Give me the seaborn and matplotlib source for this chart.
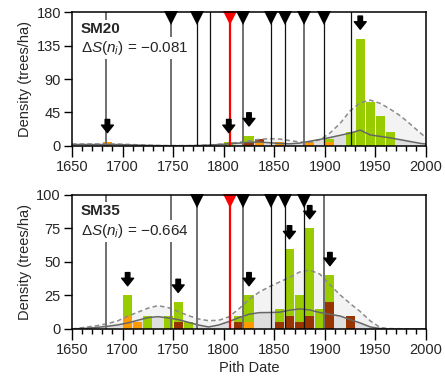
import numpy as np
import pandas as pd
import matplotlib
matplotlib.use('Agg')
import matplotlib.pyplot as plt
import seaborn as sns

# bar data: bin start year, class, density (trees/ha)
top_bins = [1680, 1800, 1820, 1820, 1830, 1830, 1850, 1880, 1900, 1900, 1920, 1930, 1940, 1950, 1960]
top_cls = ['orange', 'green', 'brown', 'green', 'orange', 'brown', 'orange', 'orange', 'orange', 'green',
           'green', 'green', 'green', 'green', 'green']
top_dens = [4.5, 4.5, 4.5, 9, 4.5, 4.5, 4.5, 4.5, 4.5, 4.5, 18, 144, 58.5, 40.5, 18]

bot_bins = [1700, 1700, 1710, 1720, 1740, 1750, 1750, 1760, 1810, 1810, 1820, 1820, 1850, 1850,
            1860, 1860, 1870, 1870, 1880, 1880, 1890, 1900, 1900, 1920]
bot_cls = ['orange', 'green', 'orange', 'green', 'green', 'brown', 'green', 'green', 'brown', 'green',
           'orange', 'green', 'brown', 'green', 'brown', 'green', 'brown', 'green', 'brown', 'green',
           'green', 'brown', 'green', 'brown']
bot_dens = [10, 15, 5, 10, 10, 5, 15, 5, 5, 5, 5, 20, 5, 10, 10, 50, 5, 20, 10, 65, 15, 20, 20, 10]

# smoothed curves (read at 1650, bin centres 1655..1995, 2000)
grid = np.r_[1650, np.arange(1655, 2000, 10), 2000]
top_dash = [2.2, 2.2, 2.3, 2.3, 2.3, 2.2, 1.8, 1.2, 0.7, 0.3, 0.1, 0.1, 0.1, 0.4, 1.0, 1.8, 3.0, 4.5,
            6.5, 8.5, 9.5, 9.0, 7.0, 5.0, 4.5, 8.0, 17, 30, 47, 58, 61.5, 57, 49, 40, 28.5, 16.5, 11]
top_solid = [1.6, 1.6, 1.6, 1.6, 1.6, 1.5, 1.2, 0.8, 0.4, 0.1, 0, 0, 0, 0.2, 0.8, 1.5, 2.5, 3.5,
             4.5, 5, 4, 3, 2.5, 3.5, 6, 8.5, 11, 14, 17, 21, 14.5, 12.5, 10.5, 8, 5.5, 3, 2.3]
bot_dash = [0, 0.5, 1.5, 2.5, 4, 6, 9.5, 12.5, 15.5, 17.4, 16, 13, 10, 7.5, 6.2, 6.5, 9, 15,
            22, 27.5, 31.5, 35, 38.5, 42.5, 44, 41, 33, 25.5, 19, 13, 6, 1, 0.3, 0.2, 0.1, 0.1, 0.1]
bot_solid = [0, 0.2, 0.6, 1.2, 2, 3, 4.5, 6.5, 8.5, 9.2, 8.3, 7, 5, 3, 1.5, 3, 5.5, 8.5,
             11, 12.2, 12.3, 12.5, 14, 15, 14.2, 12.3, 11, 9.7, 7, 4.5, 1.5, 0.3, 0, 0, 0, 0, 0]

# vertical event lines
red_year = 1806
top_black = [1774, 1786, 1847, 1861, 1899, 1926]
top_gray = [1684, 1748, 1819, 1879]
top_tri = [1748, 1774, 1819, 1847, 1861, 1879, 1899]
bot_black = [1847, 1861, 1879]
bot_gray = [1684, 1748, 1774, 1819, 1899]
bot_tri = [1774, 1819, 1847, 1861, 1879]

top_arrows = [1680, 1800, 1820, 1930]
bot_arrows = [1700, 1750, 1820, 1860, 1880, 1900]

sns.set_theme(style='ticks')
plt.rcParams['font.family'] = ['Liberation Sans', 'DejaVu Sans']
plt.rcParams['mathtext.fontset'] = 'custom'
plt.rcParams['mathtext.rm'] = 'Liberation Sans'
plt.rcParams['mathtext.it'] = 'Liberation Sans:italic'
plt.rcParams['axes.linewidth'] = 1.1

pal = {'green': '#99cc00', 'brown': '#993300', 'orange': '#ff9900'}


def panel(ax, bins, cls, dens, dash, solid, blk, gry, tri, arrows, ymax, yt, name, ds):
    df = pd.DataFrame({'year': bins, 'cls': cls, 'dens': dens})
    ax.fill_between(grid, 0, dash, color='#f3f3f3', lw=0, zorder=0.5)
    ax.fill_between(grid, 0, solid, color='#dedede', lw=0, zorder=0.6)
    sns.histplot(data=df, x='year', weights='dens', hue='cls', hue_order=['green', 'brown', 'orange'],
                 multiple='stack', binwidth=10, binrange=(1650, 2000), shrink=0.9, palette=pal,
                 alpha=1, linewidth=0, legend=False, ax=ax, zorder=2)
    ax.plot(grid, dash, color='#8a8a8a', lw=1.1, ls=(0, (3, 2)), zorder=3)
    sns.lineplot(x=grid, y=solid, color='#666666', lw=1.1, ax=ax, zorder=3)
    for yr in gry:
        ax.axvline(yr, color='#707070', lw=1.4, zorder=4)
    for yr in blk:
        ax.axvline(yr, color='#111111', lw=0.9, zorder=4)
    ax.axvline(red_year, color='#ff0000', lw=1.6, zorder=4)
    ax.plot(tri, [0.955] * len(tri), 'v', color='black', ms=9.5, mew=0,
            transform=ax.get_xaxis_transform(), clip_on=False, zorder=6)
    ax.plot([red_year], [0.955], 'v', color='#ff0000', ms=9.5, mew=0,
            transform=ax.get_xaxis_transform(), clip_on=False, zorder=6)
    tot = df.groupby('year')['dens'].sum()
    for b in arrows:
        ax.annotate('', xy=(b + 5, tot[b]), xytext=(0, 16.5), textcoords='offset points',
                    arrowprops=dict(arrowstyle='simple,head_length=0.6,head_width=0.95,tail_width=0.36',
                                    mutation_scale=9, color='black', shrinkA=0, shrinkB=7),
                    zorder=7)
    ax.text(0.025, 0.93, name, transform=ax.transAxes, fontsize=11, fontweight='bold', va='top',
            bbox=dict(fc='white', ec='none', pad=1.5), zorder=8)
    ax.text(0.025, 0.80, r'$\Delta S(n_i)$ = ' + ds, transform=ax.transAxes, fontsize=11, va='top',
            bbox=dict(fc='white', ec='none', pad=1.5), zorder=8)
    ax.set_xlim(1650, 2000)
    ax.set_ylim(0, ymax)
    ax.set_yticks(yt)
    ax.set_xticks(np.arange(1650, 2001, 50))
    ax.set_xticks(np.arange(1650, 2001, 10), minor=True)
    ax.tick_params(axis='x', which='major', length=8, width=1, labelsize=10.5, pad=2, color='black')
    ax.tick_params(axis='x', which='minor', length=3.6, width=1, color='black')
    ax.tick_params(axis='y', length=6, width=1, labelsize=10.5, pad=2, color='black')
    ax.set_ylabel('Density (trees/ha)', fontsize=10.5, labelpad=3)
    ax.set_xlabel('')
    for s in ax.spines.values():
        s.set_color('black')
        s.set_zorder(9)


fig = plt.figure(figsize=(4.45, 3.81), dpi=100)
ax1 = fig.add_axes([0.1618, 0.6176, 0.7955, 0.3501])
ax2 = fig.add_axes([0.1618, 0.1365, 0.7955, 0.3517])

panel(ax1, top_bins, top_cls, top_dens, top_dash, top_solid, top_black, top_gray, top_tri,
      top_arrows, 180, [0, 45, 90, 135, 180], 'SM20', '\u22120.081')
panel(ax2, bot_bins, bot_cls, bot_dens, bot_dash, bot_solid, bot_black, bot_gray, bot_tri,
      bot_arrows, 100, [0, 25, 50, 75, 100], 'SM35', '\u22120.664')
ax2.set_xlabel('Pith Date', fontsize=10.5, labelpad=3)

fig.savefig('out.png', dpi=100)
